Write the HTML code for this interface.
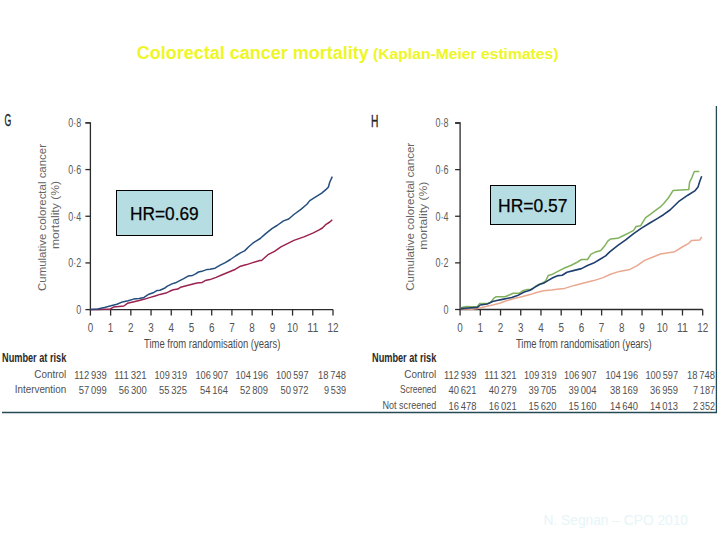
<!DOCTYPE html>
<html><head><meta charset="utf-8"><style>
html,body{margin:0;padding:0;background:#fff;width:720px;height:540px;overflow:hidden}
svg{display:block;font-family:"Liberation Sans", sans-serif}
</style></head><body>
<svg width="720" height="540" viewBox="0 0 720 540">
<path d="M85.4,122.9H90.4V309.6H333.0" fill="none" stroke="#2b2b2b" stroke-width="1.3"/>
<path d="M85.4,309.6H90.4" stroke="#2b2b2b" stroke-width="1.3"/>
<text x="81.2" y="313.90000000000003" font-size="12.5" text-anchor="end" font-weight="normal" fill="#5c5c5c" textLength="5" lengthAdjust="spacingAndGlyphs" >0</text>
<path d="M85.4,262.925H90.4" stroke="#2b2b2b" stroke-width="1.3"/>
<text x="81.2" y="267.225" font-size="12.5" text-anchor="end" font-weight="normal" fill="#5c5c5c" textLength="13" lengthAdjust="spacingAndGlyphs" >0·2</text>
<path d="M85.4,216.25H90.4" stroke="#2b2b2b" stroke-width="1.3"/>
<text x="81.2" y="220.55" font-size="12.5" text-anchor="end" font-weight="normal" fill="#5c5c5c" textLength="13" lengthAdjust="spacingAndGlyphs" >0·4</text>
<path d="M85.4,169.57500000000002H90.4" stroke="#2b2b2b" stroke-width="1.3"/>
<text x="81.2" y="173.87500000000003" font-size="12.5" text-anchor="end" font-weight="normal" fill="#5c5c5c" textLength="13" lengthAdjust="spacingAndGlyphs" >0·6</text>
<path d="M85.4,122.9H90.4" stroke="#2b2b2b" stroke-width="1.3"/>
<text x="81.2" y="127.2" font-size="12.5" text-anchor="end" font-weight="normal" fill="#5c5c5c" textLength="13" lengthAdjust="spacingAndGlyphs" >0·8</text>
<path d="M90.4,309.6V315.6" stroke="#2b2b2b" stroke-width="1.3"/>
<text x="90.4" y="331.5" font-size="12" text-anchor="middle" font-weight="normal" fill="#555" textLength="5.5" lengthAdjust="spacingAndGlyphs" >0</text>
<path d="M110.61666666666667,309.6V315.6" stroke="#2b2b2b" stroke-width="1.3"/>
<text x="110.6" y="331.5" font-size="12" text-anchor="middle" font-weight="normal" fill="#555" textLength="5.5" lengthAdjust="spacingAndGlyphs" >1</text>
<path d="M130.83333333333334,309.6V315.6" stroke="#2b2b2b" stroke-width="1.3"/>
<text x="130.8" y="331.5" font-size="12" text-anchor="middle" font-weight="normal" fill="#555" textLength="5.5" lengthAdjust="spacingAndGlyphs" >2</text>
<path d="M151.05,309.6V315.6" stroke="#2b2b2b" stroke-width="1.3"/>
<text x="151.1" y="331.5" font-size="12" text-anchor="middle" font-weight="normal" fill="#555" textLength="5.5" lengthAdjust="spacingAndGlyphs" >3</text>
<path d="M171.26666666666665,309.6V315.6" stroke="#2b2b2b" stroke-width="1.3"/>
<text x="171.3" y="331.5" font-size="12" text-anchor="middle" font-weight="normal" fill="#555" textLength="5.5" lengthAdjust="spacingAndGlyphs" >4</text>
<path d="M191.48333333333335,309.6V315.6" stroke="#2b2b2b" stroke-width="1.3"/>
<text x="191.5" y="331.5" font-size="12" text-anchor="middle" font-weight="normal" fill="#555" textLength="5.5" lengthAdjust="spacingAndGlyphs" >5</text>
<path d="M211.7,309.6V315.6" stroke="#2b2b2b" stroke-width="1.3"/>
<text x="211.7" y="331.5" font-size="12" text-anchor="middle" font-weight="normal" fill="#555" textLength="5.5" lengthAdjust="spacingAndGlyphs" >6</text>
<path d="M231.91666666666666,309.6V315.6" stroke="#2b2b2b" stroke-width="1.3"/>
<text x="231.9" y="331.5" font-size="12" text-anchor="middle" font-weight="normal" fill="#555" textLength="5.5" lengthAdjust="spacingAndGlyphs" >7</text>
<path d="M252.13333333333333,309.6V315.6" stroke="#2b2b2b" stroke-width="1.3"/>
<text x="252.1" y="331.5" font-size="12" text-anchor="middle" font-weight="normal" fill="#555" textLength="5.5" lengthAdjust="spacingAndGlyphs" >8</text>
<path d="M272.35,309.6V315.6" stroke="#2b2b2b" stroke-width="1.3"/>
<text x="272.4" y="331.5" font-size="12" text-anchor="middle" font-weight="normal" fill="#555" textLength="5.5" lengthAdjust="spacingAndGlyphs" >9</text>
<path d="M292.56666666666666,309.6V315.6" stroke="#2b2b2b" stroke-width="1.3"/>
<text x="292.6" y="331.5" font-size="12" text-anchor="middle" font-weight="normal" fill="#555" textLength="11" lengthAdjust="spacingAndGlyphs" >10</text>
<path d="M312.7833333333333,309.6V315.6" stroke="#2b2b2b" stroke-width="1.3"/>
<text x="312.8" y="331.5" font-size="12" text-anchor="middle" font-weight="normal" fill="#555" textLength="11" lengthAdjust="spacingAndGlyphs" >11</text>
<path d="M333.0,309.6V315.6" stroke="#2b2b2b" stroke-width="1.3"/>
<text x="333.0" y="331.5" font-size="12" text-anchor="middle" font-weight="normal" fill="#555" textLength="11" lengthAdjust="spacingAndGlyphs" >12</text>
<path d="M455.1,123.0H460.1V309.5H702.7" fill="none" stroke="#2b2b2b" stroke-width="1.3"/>
<path d="M455.1,309.5H460.1" stroke="#2b2b2b" stroke-width="1.3"/>
<text x="448.5" y="313.8" font-size="12.5" text-anchor="end" font-weight="normal" fill="#5c5c5c" textLength="5" lengthAdjust="spacingAndGlyphs" >0</text>
<path d="M455.1,262.875H460.1" stroke="#2b2b2b" stroke-width="1.3"/>
<text x="448.5" y="267.175" font-size="12.5" text-anchor="end" font-weight="normal" fill="#5c5c5c" textLength="13" lengthAdjust="spacingAndGlyphs" >0·2</text>
<path d="M455.1,216.25H460.1" stroke="#2b2b2b" stroke-width="1.3"/>
<text x="448.5" y="220.55" font-size="12.5" text-anchor="end" font-weight="normal" fill="#5c5c5c" textLength="13" lengthAdjust="spacingAndGlyphs" >0·4</text>
<path d="M455.1,169.625H460.1" stroke="#2b2b2b" stroke-width="1.3"/>
<text x="448.5" y="173.925" font-size="12.5" text-anchor="end" font-weight="normal" fill="#5c5c5c" textLength="13" lengthAdjust="spacingAndGlyphs" >0·6</text>
<path d="M455.1,123.0H460.1" stroke="#2b2b2b" stroke-width="1.3"/>
<text x="448.5" y="127.3" font-size="12.5" text-anchor="end" font-weight="normal" fill="#5c5c5c" textLength="13" lengthAdjust="spacingAndGlyphs" >0·8</text>
<path d="M460.1,309.5V315.5" stroke="#2b2b2b" stroke-width="1.3"/>
<text x="460.1" y="331.5" font-size="12" text-anchor="middle" font-weight="normal" fill="#555" textLength="5.5" lengthAdjust="spacingAndGlyphs" >0</text>
<path d="M480.3166666666667,309.5V315.5" stroke="#2b2b2b" stroke-width="1.3"/>
<text x="480.3" y="331.5" font-size="12" text-anchor="middle" font-weight="normal" fill="#555" textLength="5.5" lengthAdjust="spacingAndGlyphs" >1</text>
<path d="M500.53333333333336,309.5V315.5" stroke="#2b2b2b" stroke-width="1.3"/>
<text x="500.5" y="331.5" font-size="12" text-anchor="middle" font-weight="normal" fill="#555" textLength="5.5" lengthAdjust="spacingAndGlyphs" >2</text>
<path d="M520.75,309.5V315.5" stroke="#2b2b2b" stroke-width="1.3"/>
<text x="520.8" y="331.5" font-size="12" text-anchor="middle" font-weight="normal" fill="#555" textLength="5.5" lengthAdjust="spacingAndGlyphs" >3</text>
<path d="M540.9666666666667,309.5V315.5" stroke="#2b2b2b" stroke-width="1.3"/>
<text x="541.0" y="331.5" font-size="12" text-anchor="middle" font-weight="normal" fill="#555" textLength="5.5" lengthAdjust="spacingAndGlyphs" >4</text>
<path d="M561.1833333333334,309.5V315.5" stroke="#2b2b2b" stroke-width="1.3"/>
<text x="561.2" y="331.5" font-size="12" text-anchor="middle" font-weight="normal" fill="#555" textLength="5.5" lengthAdjust="spacingAndGlyphs" >5</text>
<path d="M581.4000000000001,309.5V315.5" stroke="#2b2b2b" stroke-width="1.3"/>
<text x="581.4" y="331.5" font-size="12" text-anchor="middle" font-weight="normal" fill="#555" textLength="5.5" lengthAdjust="spacingAndGlyphs" >6</text>
<path d="M601.6166666666667,309.5V315.5" stroke="#2b2b2b" stroke-width="1.3"/>
<text x="601.6" y="331.5" font-size="12" text-anchor="middle" font-weight="normal" fill="#555" textLength="5.5" lengthAdjust="spacingAndGlyphs" >7</text>
<path d="M621.8333333333334,309.5V315.5" stroke="#2b2b2b" stroke-width="1.3"/>
<text x="621.8" y="331.5" font-size="12" text-anchor="middle" font-weight="normal" fill="#555" textLength="5.5" lengthAdjust="spacingAndGlyphs" >8</text>
<path d="M642.0500000000001,309.5V315.5" stroke="#2b2b2b" stroke-width="1.3"/>
<text x="642.1" y="331.5" font-size="12" text-anchor="middle" font-weight="normal" fill="#555" textLength="5.5" lengthAdjust="spacingAndGlyphs" >9</text>
<path d="M662.2666666666667,309.5V315.5" stroke="#2b2b2b" stroke-width="1.3"/>
<text x="662.3" y="331.5" font-size="12" text-anchor="middle" font-weight="normal" fill="#555" textLength="11" lengthAdjust="spacingAndGlyphs" >10</text>
<path d="M682.4833333333333,309.5V315.5" stroke="#2b2b2b" stroke-width="1.3"/>
<text x="682.5" y="331.5" font-size="12" text-anchor="middle" font-weight="normal" fill="#555" textLength="11" lengthAdjust="spacingAndGlyphs" >11</text>
<path d="M702.7,309.5V315.5" stroke="#2b2b2b" stroke-width="1.3"/>
<text x="702.7" y="331.5" font-size="12" text-anchor="middle" font-weight="normal" fill="#555" textLength="11" lengthAdjust="spacingAndGlyphs" >12</text>
<text transform="translate(46.2,217.5) rotate(-90)" x="0" y="0" font-size="10.5" text-anchor="middle" fill="#666" textLength="147" lengthAdjust="spacingAndGlyphs">Cumulative colorectal cancer</text>
<text transform="translate(59.2,215) rotate(-90)" x="0" y="0" font-size="10.5" text-anchor="middle" fill="#666" textLength="68" lengthAdjust="spacingAndGlyphs">mortality (%)</text>
<text transform="translate(413.6,216.8) rotate(-90)" x="0" y="0" font-size="10.5" text-anchor="middle" fill="#666" textLength="148" lengthAdjust="spacingAndGlyphs">Cumulative colorectal cancer</text>
<text transform="translate(427.2,215.7) rotate(-90)" x="0" y="0" font-size="10.5" text-anchor="middle" fill="#666" textLength="68" lengthAdjust="spacingAndGlyphs">mortality (%)</text>
<text x="144" y="347.7" font-size="12" text-anchor="start" font-weight="normal" fill="#4a4a4a" textLength="136.3" lengthAdjust="spacingAndGlyphs" >Time from randomisation (years)</text>
<text x="515.9" y="347.7" font-size="12" text-anchor="start" font-weight="normal" fill="#4a4a4a" textLength="135.7" lengthAdjust="spacingAndGlyphs" >Time from randomisation (years)</text>
<text x="4.6" y="126" font-size="16.5" fill="#222" stroke="#222" stroke-width="0.35" textLength="6.8" lengthAdjust="spacingAndGlyphs">G</text>
<text x="370.9" y="127" font-size="16.5" fill="#222" stroke="#222" stroke-width="0.35" textLength="7.4" lengthAdjust="spacingAndGlyphs">H</text>
<polyline points="90.4,309.6 97.7,309.4 104,309.3 110,309.2 113.5,307.1 119,306.4 123.9,306 127.4,303.3 132.9,301.9 139.2,300.5 144.7,299.1 150.3,297.4 155.1,296 160,294.4 165.9,293.1 169.6,291.3 173.3,289.8 177.8,289.1 180.7,287.2 185.2,286.1 191.1,284.6 197,283.1 202.2,282.4 205.2,280.6 210,279.6 216.1,277.4 222.2,274.8 228.3,272.3 235.5,269.2 240.5,266.2 246.7,264.6 252.8,262.6 259.9,260.5 261.5,260.5 268,254.7 274.5,251.4 280.9,246.9 287.4,243.6 293.9,240.4 303.9,236.9 312.8,233.1 318.7,230.2 322.4,228 326.1,224.3 329.8,222 332.3,219.8" fill="none" stroke="#9a2250" stroke-width="1.5" stroke-linejoin="round"/>
<polyline points="90.4,309.6 97.7,308.9 104.5,307.4 110,306 116.9,304.3 122.5,301.9 128.1,300.8 133.6,299.1 139.2,298.4 144,297.4 148.9,294.2 153.1,292.8 157.2,290.4 160,290.2 164.4,288.3 167.4,286.1 171.9,283.9 175.6,282.8 179.3,280.9 183.7,278.7 188.1,276.1 192.6,275.4 195.6,273.9 198.5,272 203,270.9 207.4,269.4 210,269.2 215.1,268.2 220.2,265.1 225.3,262.6 230.4,259.5 235.5,256 240.5,252.9 244.6,250.9 248.7,246.8 252.8,243.2 256.8,240.7 260.2,238.5 265.4,233.9 271.9,228.7 277,225.5 283.5,220.9 288.7,219 293.9,214.5 300.9,209.4 306.9,204.3 309.8,200.6 315.7,196.9 321.7,193.1 326.1,189.4 328.3,187.2 329.8,182 332.3,176.6" fill="none" stroke="#244e7e" stroke-width="1.5" stroke-linejoin="round"/>
<polyline points="460.8,308.8 471.9,309.2 477.4,308.5 485.8,306.4 492.7,305 499.7,303.3 505,301.25 513.3,298.75 521.7,296.7 530,294.6 536.7,292.5 543.3,290.8 551.7,290 557,289.3 564.6,288.4 574.3,285.4 583.9,283 593.6,280.6 603.2,277.6 610.4,274.2 619.4,271.4 628.9,269.8 636.8,265.9 644.6,260.4 652.5,257.2 660.4,254 674.8,251.7 682.2,247 688.7,243.3 691.5,240.6 699.8,240 701.7,236.9" fill="none" stroke="#eaa890" stroke-width="1.5" stroke-linejoin="round"/>
<polyline points="460.8,307.8 466.3,306.4 471.9,306.7 477.4,306.4 479.5,303.6 488.6,303.3 491.3,301.5 494.1,298.1 496.2,296.7 505,296.7 509.2,295 513.3,293.3 519.2,293.3 522.5,290.8 526.7,289.6 531.7,289.6 535,286.7 538.3,284.6 542.5,282.9 545.8,280.8 548.3,275.4 551.7,274.6 555,272.8 559.8,270.4 564.6,268 570.7,265.5 576.7,262.5 581.5,259.5 587.5,259.5 591.1,254.1 594.8,252.3 600.8,250.5 604.4,246.3 608,240.8 610.4,239 617.9,238.3 622.6,236 628.9,232.8 633.6,230.4 636,226.5 640.7,225.7 645.4,217.8 650.9,213.9 657.2,209.2 660,207.2 663.7,203.5 668.3,198 673,190.6 688.7,189.6 689.6,182.2 691.9,177.6 694.3,171.5 699.3,171.5" fill="none" stroke="#80b25c" stroke-width="1.5" stroke-linejoin="round"/>
<polyline points="460.8,308.5 477.4,307.4 480.2,305 487.2,304 492.7,301.5 496.9,300.5 502.4,299.4 508,298.2 511.7,297.5 517.5,295.6 524.2,292 530,290.2 535,287.1 540,284.2 544.2,282.9 548.3,280.4 553.3,277.5 558.3,275.6 562.2,275.2 567,272.2 574.3,270.4 581.5,268.6 587.5,265.5 593.6,263.1 599.6,259.5 605.6,255.9 610,251.7 617.9,245.4 625.7,239.9 633.6,233.6 641.5,228.1 649.4,223.3 657.2,218.6 663.5,214.7 670,210 678.5,201.7 687.8,195.2 695.2,190.6 698,186.9 699.8,181.3 701.7,176.3" fill="none" stroke="#1e3f6e" stroke-width="1.6" stroke-linejoin="round"/>
<text x="2" y="361.7" font-size="12" text-anchor="start" font-weight="bold" fill="#2a2a2a" textLength="64.3" lengthAdjust="spacingAndGlyphs" >Number at risk</text>
<text x="372" y="361.7" font-size="12" text-anchor="start" font-weight="bold" fill="#2a2a2a" textLength="64.3" lengthAdjust="spacingAndGlyphs" >Number at risk</text>
<text x="66.3" y="377.5" font-size="11.5" text-anchor="end" font-weight="normal" fill="#505050" textLength="32" lengthAdjust="spacingAndGlyphs" >Control</text>
<text x="106.7" y="378.5" font-size="11.5" text-anchor="end" font-weight="normal" fill="#505050" textLength="32.5" lengthAdjust="spacingAndGlyphs" >112&#8201;939</text>
<text x="146.7" y="378.5" font-size="11.5" text-anchor="end" font-weight="normal" fill="#505050" textLength="32.5" lengthAdjust="spacingAndGlyphs" >111&#8201;321</text>
<text x="187" y="378.5" font-size="11.5" text-anchor="end" font-weight="normal" fill="#505050" textLength="32.5" lengthAdjust="spacingAndGlyphs" >109&#8201;319</text>
<text x="228" y="378.5" font-size="11.5" text-anchor="end" font-weight="normal" fill="#505050" textLength="32.5" lengthAdjust="spacingAndGlyphs" >106&#8201;907</text>
<text x="268" y="378.5" font-size="11.5" text-anchor="end" font-weight="normal" fill="#505050" textLength="32.5" lengthAdjust="spacingAndGlyphs" >104&#8201;196</text>
<text x="308.5" y="378.5" font-size="11.5" text-anchor="end" font-weight="normal" fill="#505050" textLength="32.5" lengthAdjust="spacingAndGlyphs" >100&#8201;597</text>
<text x="346" y="378.5" font-size="11.5" text-anchor="end" font-weight="normal" fill="#505050" textLength="28" lengthAdjust="spacingAndGlyphs" >18&#8201;748</text>
<text x="66.3" y="393.3" font-size="11.5" text-anchor="end" font-weight="normal" fill="#505050" textLength="51.6" lengthAdjust="spacingAndGlyphs" >Intervention</text>
<text x="106.7" y="394.3" font-size="11.5" text-anchor="end" font-weight="normal" fill="#505050" textLength="28" lengthAdjust="spacingAndGlyphs" >57&#8201;099</text>
<text x="146.7" y="394.3" font-size="11.5" text-anchor="end" font-weight="normal" fill="#505050" textLength="28" lengthAdjust="spacingAndGlyphs" >56&#8201;300</text>
<text x="187" y="394.3" font-size="11.5" text-anchor="end" font-weight="normal" fill="#505050" textLength="28" lengthAdjust="spacingAndGlyphs" >55&#8201;325</text>
<text x="228" y="394.3" font-size="11.5" text-anchor="end" font-weight="normal" fill="#505050" textLength="28" lengthAdjust="spacingAndGlyphs" >54&#8201;164</text>
<text x="268" y="394.3" font-size="11.5" text-anchor="end" font-weight="normal" fill="#505050" textLength="28" lengthAdjust="spacingAndGlyphs" >52&#8201;809</text>
<text x="308.5" y="394.3" font-size="11.5" text-anchor="end" font-weight="normal" fill="#505050" textLength="28" lengthAdjust="spacingAndGlyphs" >50&#8201;972</text>
<text x="346" y="394.3" font-size="11.5" text-anchor="end" font-weight="normal" fill="#505050" textLength="22" lengthAdjust="spacingAndGlyphs" >9&#8201;539</text>
<text x="436.3" y="377.5" font-size="11.5" text-anchor="end" font-weight="normal" fill="#505050" textLength="32" lengthAdjust="spacingAndGlyphs" >Control</text>
<text x="476.5" y="378.5" font-size="11.5" text-anchor="end" font-weight="normal" fill="#505050" textLength="32.5" lengthAdjust="spacingAndGlyphs" >112&#8201;939</text>
<text x="516.7" y="378.5" font-size="11.5" text-anchor="end" font-weight="normal" fill="#505050" textLength="32.5" lengthAdjust="spacingAndGlyphs" >111&#8201;321</text>
<text x="556.5" y="378.5" font-size="11.5" text-anchor="end" font-weight="normal" fill="#505050" textLength="32.5" lengthAdjust="spacingAndGlyphs" >109&#8201;319</text>
<text x="596.5" y="378.5" font-size="11.5" text-anchor="end" font-weight="normal" fill="#505050" textLength="32.5" lengthAdjust="spacingAndGlyphs" >106&#8201;907</text>
<text x="638" y="378.5" font-size="11.5" text-anchor="end" font-weight="normal" fill="#505050" textLength="32.5" lengthAdjust="spacingAndGlyphs" >104&#8201;196</text>
<text x="678" y="378.5" font-size="11.5" text-anchor="end" font-weight="normal" fill="#505050" textLength="32.5" lengthAdjust="spacingAndGlyphs" >100&#8201;597</text>
<text x="715" y="378.5" font-size="11.5" text-anchor="end" font-weight="normal" fill="#505050" textLength="28" lengthAdjust="spacingAndGlyphs" >18&#8201;748</text>
<text x="436.3" y="393.3" font-size="11.5" text-anchor="end" font-weight="normal" fill="#505050" textLength="36.3" lengthAdjust="spacingAndGlyphs" >Screened</text>
<text x="476.5" y="394.3" font-size="11.5" text-anchor="end" font-weight="normal" fill="#505050" textLength="28" lengthAdjust="spacingAndGlyphs" >40&#8201;621</text>
<text x="516.7" y="394.3" font-size="11.5" text-anchor="end" font-weight="normal" fill="#505050" textLength="28" lengthAdjust="spacingAndGlyphs" >40&#8201;279</text>
<text x="556.5" y="394.3" font-size="11.5" text-anchor="end" font-weight="normal" fill="#505050" textLength="28" lengthAdjust="spacingAndGlyphs" >39&#8201;705</text>
<text x="596.5" y="394.3" font-size="11.5" text-anchor="end" font-weight="normal" fill="#505050" textLength="28" lengthAdjust="spacingAndGlyphs" >39&#8201;004</text>
<text x="638" y="394.3" font-size="11.5" text-anchor="end" font-weight="normal" fill="#505050" textLength="28" lengthAdjust="spacingAndGlyphs" >38&#8201;169</text>
<text x="678" y="394.3" font-size="11.5" text-anchor="end" font-weight="normal" fill="#505050" textLength="28" lengthAdjust="spacingAndGlyphs" >36&#8201;959</text>
<text x="715" y="394.3" font-size="11.5" text-anchor="end" font-weight="normal" fill="#505050" textLength="22" lengthAdjust="spacingAndGlyphs" >7&#8201;187</text>
<text x="436.3" y="409.3" font-size="11.5" text-anchor="end" font-weight="normal" fill="#505050" textLength="53.8" lengthAdjust="spacingAndGlyphs" >Not screened</text>
<text x="476.5" y="410.3" font-size="11.5" text-anchor="end" font-weight="normal" fill="#505050" textLength="28" lengthAdjust="spacingAndGlyphs" >16&#8201;478</text>
<text x="516.7" y="410.3" font-size="11.5" text-anchor="end" font-weight="normal" fill="#505050" textLength="28" lengthAdjust="spacingAndGlyphs" >16&#8201;021</text>
<text x="556.5" y="410.3" font-size="11.5" text-anchor="end" font-weight="normal" fill="#505050" textLength="28" lengthAdjust="spacingAndGlyphs" >15&#8201;620</text>
<text x="596.5" y="410.3" font-size="11.5" text-anchor="end" font-weight="normal" fill="#505050" textLength="28" lengthAdjust="spacingAndGlyphs" >15&#8201;160</text>
<text x="638" y="410.3" font-size="11.5" text-anchor="end" font-weight="normal" fill="#505050" textLength="28" lengthAdjust="spacingAndGlyphs" >14&#8201;640</text>
<text x="678" y="410.3" font-size="11.5" text-anchor="end" font-weight="normal" fill="#505050" textLength="28" lengthAdjust="spacingAndGlyphs" >14&#8201;013</text>
<text x="715" y="410.3" font-size="11.5" text-anchor="end" font-weight="normal" fill="#505050" textLength="22" lengthAdjust="spacingAndGlyphs" >2&#8201;352</text>
<path d="M2,412.5H716.4V106" fill="none" stroke="#264a55" stroke-width="1.3"/>
<rect x="116.5" y="190.5" width="96" height="45" fill="#b6dde2" stroke="#000" stroke-width="1"/>
<text x="130" y="220" font-size="17.5" text-anchor="start" font-weight="normal" fill="#000" textLength="68.7" lengthAdjust="spacingAndGlyphs" stroke="#000" stroke-width="0.25">HR=0.69</text>
<rect x="490.5" y="185.5" width="85" height="39" fill="#b6dde2" stroke="#000" stroke-width="1"/>
<text x="498" y="211.7" font-size="17.5" text-anchor="start" font-weight="normal" fill="#000" textLength="69.5" lengthAdjust="spacingAndGlyphs" stroke="#000" stroke-width="0.25">HR=0.57</text>
<text x="136.7" y="58.5" font-size="18" font-weight="bold" fill="#eef626">Colorectal cancer mortality</text>
<text x="373" y="58.6" font-size="15.5" font-weight="bold" fill="#eef626" textLength="185.5" lengthAdjust="spacingAndGlyphs">(Kaplan-Meier estimates)</text>
<text x="543.5" y="525.2" font-size="14.5" text-anchor="start" font-weight="normal" fill="#e6f5f8" textLength="144.5" lengthAdjust="spacingAndGlyphs" >N. Segnan – CPO 2010</text>
</svg></body></html>
